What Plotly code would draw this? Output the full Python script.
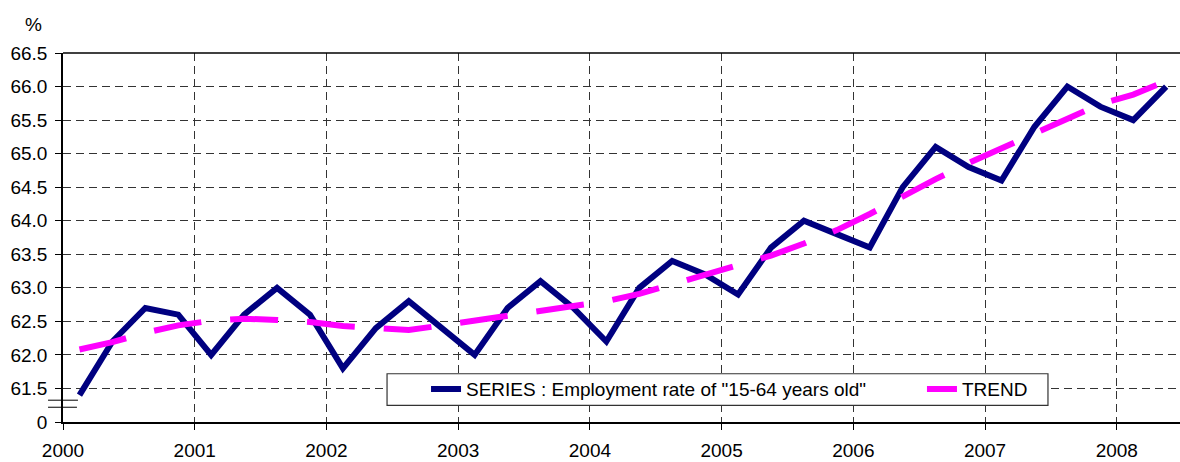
import plotly.graph_objects as go

quarters = ["2000Q1", "2000Q2", "2000Q3", "2000Q4",
            "2001Q1", "2001Q2", "2001Q3", "2001Q4",
            "2002Q1", "2002Q2", "2002Q3", "2002Q4",
            "2003Q1", "2003Q2", "2003Q3", "2003Q4",
            "2004Q1", "2004Q2", "2004Q3", "2004Q4",
            "2005Q1", "2005Q2", "2005Q3", "2005Q4",
            "2006Q1", "2006Q2", "2006Q3", "2006Q4",
            "2007Q1", "2007Q2", "2007Q3", "2007Q4",
            "2008Q1", "2008Q2"]

series = [61.4, 62.2, 62.7, 62.6, 62.0, 62.6, 63.0, 62.6,
          61.8, 62.4, 62.8, 62.4, 62.0, 62.7, 63.1, 62.7,
          62.2, 63.0, 63.4, 63.2, 62.9, 63.6, 64.0, 63.8,
          63.6, 64.5, 65.1, 64.8, 64.6, 65.4, 66.0, 65.7,
          65.5, 66.0]

trend = [62.08, 62.19, 62.33, 62.44, 62.51, 62.54, 62.52, 62.49,
         62.43, 62.39, 62.37, 62.44, 62.51, 62.59, 62.66, 62.74,
         62.80, 62.91, 63.05, 63.19, 63.35, 63.48, 63.66, 63.86,
         64.10, 64.37, 64.62, 64.86, 65.08, 65.30, 65.52, 65.74,
         65.88, 66.08]

year_ticks = [2000, 2001, 2002, 2003, 2004, 2005, 2006, 2007, 2008]
y_ticks = [61.5, 62.0, 62.5, 63.0, 63.5, 64.0, 64.5, 65.0, 65.5, 66.0, 66.5]
y_floor = 61.0          # position of the broken-axis "0" label
y_floor_label = "0"

series_name = 'SERIES : Employment rate of "15-64 years old"'
trend_name = "TREND"


def qpos(q):
    yr, n = q.split("Q")
    return int(yr) + (int(n) - 0.5) / 4


x = [qpos(q) for q in quarters]

FONT = "Liberation Sans, Arial, sans-serif"

fig = go.Figure()
fig.add_trace(go.Scatter(
    x=x, y=series, mode="lines", name=series_name, legend="legend",
    line=dict(color="#000080", width=6),
))
fig.add_trace(go.Scatter(
    x=x, y=trend, mode="lines", name=trend_name, legend="legend2",
    line=dict(color="#FF00FF", width=6, dash="48px,29px"),
))

legend_common = dict(
    orientation="h", yanchor="middle", y=0.089, xanchor="left",
    borderwidth=0, bgcolor="rgba(0,0,0,0)", font=dict(size=19),
)

fig.update_layout(
    width=1180, height=462,
    margin=dict(l=63, r=0, t=53, b=40, autoexpand=False),
    plot_bgcolor="white", paper_bgcolor="white",
    font=dict(family=FONT, size=19, color="black"),
    showlegend=True,
    legend=dict(x=0.325, **legend_common),
    legend2=dict(x=0.769, **legend_common),
    xaxis=dict(
        range=[2000, 2008.48], automargin=False,
        tickvals=year_ticks, ticktext=[str(v) for v in year_ticks],
        showgrid=True, gridcolor="#333333", gridwidth=1, griddash="8px,5px",
        showline=True, linecolor="black", linewidth=1.5,
        ticks="outside", ticklen=6, tickcolor="black",
        ticklabelstandoff=4, zeroline=False,
    ),
    yaxis=dict(
        range=[y_floor, 66.5], automargin=False,
        tickvals=[y_floor] + y_ticks,
        ticktext=[y_floor_label] + [f"{v:.1f}" for v in y_ticks],
        showgrid=True, gridcolor="#333333", gridwidth=1, griddash="8px,5px",
        showline=True, linecolor="black", linewidth=1.5,
        ticks="outside", ticklen=6, tickcolor="black",
        ticklabelstandoff=4, zeroline=False,
    ),
    annotations=[dict(
        text="%", xref="paper", yref="paper", x=-0.026, y=1.077,
        xanchor="center", yanchor="middle", showarrow=False,
        font=dict(size=19),
    )],
    shapes=[
        dict(type="line", xref="paper", yref="paper", x0=0, x1=1, y0=1, y1=1,
             line=dict(color="black", width=1.5)),
        # legend frame
        dict(type="rect", xref="paper", yref="paper", layer="above",
             x0=0.2901, x1=0.8818, y0=0.0453, y1=0.1308,
             fillcolor="white", line=dict(color="#333333", width=1.2)),
        # axis break marks
        dict(type="line", xref="paper", yref="y", x0=-0.0134, x1=0.0134,
             y0=61.325, y1=61.325, line=dict(color="black", width=1)),
        dict(type="line", xref="paper", yref="y", x0=-0.0134, x1=0.0125,
             y0=61.22, y1=61.22, line=dict(color="black", width=1)),
    ],
)

fig.write_html("out.html", config={"displayModeBar": False},
               post_script="document.body.style.margin='0px';")
